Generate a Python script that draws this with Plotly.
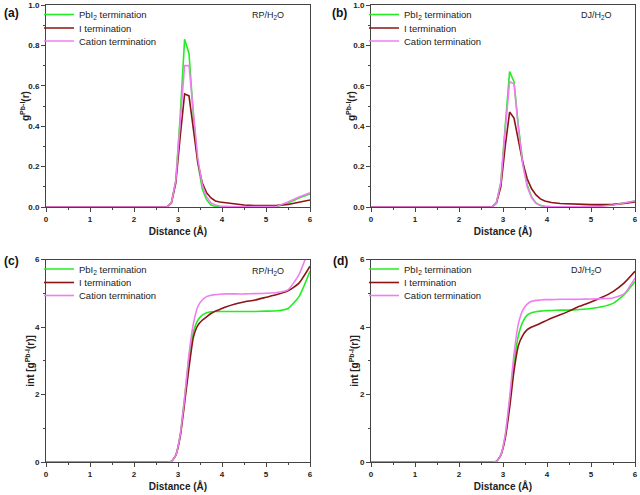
import plotly.graph_objects as go

r = [0, 0.5, 1.0, 1.5, 2.0, 2.5, 2.75, 2.85, 2.95, 3.05, 3.15, 3.25, 3.35, 3.45, 3.55,
     3.65, 3.75, 3.85, 3.95, 4.1, 4.3, 4.5, 4.75, 5.0, 5.25, 5.5, 5.75, 6.0]

# (a) RP/H2O g(r)
g_rp_pbi2 = [0, 0, 0, 0, 0, 0, 0, 0.02, 0.13, 0.45, 0.83, 0.76, 0.45, 0.22, 0.09,
             0.035, 0.01, 0.003, 0, 0, 0, 0, 0, 0, 0.002, 0.02, 0.045, 0.065]
g_rp_i = [0, 0, 0, 0, 0, 0, 0, 0.02, 0.12, 0.35, 0.56, 0.55, 0.38, 0.22, 0.12,
          0.07, 0.045, 0.03, 0.025, 0.02, 0.015, 0.01, 0.007, 0.006, 0.008, 0.012, 0.025, 0.035]
g_rp_cat = [0, 0, 0, 0, 0, 0, 0, 0.02, 0.13, 0.42, 0.70, 0.70, 0.45, 0.24, 0.11,
            0.05, 0.02, 0.01, 0.005, 0.002, 0.001, 0.001, 0.001, 0.002, 0.004, 0.025, 0.05, 0.07]
# (b) DJ/H2O g(r)
g_dj_pbi2 = [0, 0, 0, 0, 0, 0, 0, 0.02, 0.12, 0.40, 0.67, 0.62, 0.40, 0.22, 0.11,
             0.05, 0.02, 0.008, 0.003, 0.001, 0, 0, 0.001, 0.003, 0.005, 0.01, 0.02, 0.03]
g_dj_i = [0, 0, 0, 0, 0, 0, 0, 0.02, 0.10, 0.30, 0.47, 0.44, 0.32, 0.22, 0.14,
          0.09, 0.06, 0.04, 0.03, 0.022, 0.017, 0.015, 0.013, 0.012, 0.012, 0.013, 0.018, 0.025]
g_dj_cat = [0, 0, 0, 0, 0, 0, 0, 0.02, 0.12, 0.38, 0.62, 0.61, 0.39, 0.21, 0.10,
            0.045, 0.018, 0.007, 0.003, 0.001, 0, 0, 0.001, 0.002, 0.004, 0.01, 0.02, 0.03]
# (c) RP/H2O integral
n_rp_pbi2 = [0, 0, 0, 0, 0, 0, 0, 0.02, 0.2, 0.8, 1.9, 3.1, 3.85, 4.2, 4.35,
             4.42, 4.45, 4.46, 4.46, 4.46, 4.46, 4.46, 4.46, 4.47, 4.48, 4.55, 4.9, 5.65]
n_rp_i = [0, 0, 0, 0, 0, 0, 0, 0.02, 0.2, 0.75, 1.75, 2.8, 3.7, 4.05, 4.2,
          4.3, 4.4, 4.47, 4.52, 4.6, 4.68, 4.74, 4.8, 4.88, 4.96, 5.07, 5.3, 5.8]
n_rp_cat = [0, 0, 0, 0, 0, 0, 0, 0.02, 0.2, 0.8, 1.9, 3.2, 4.1, 4.6, 4.8,
            4.9, 4.94, 4.96, 4.97, 4.98, 4.98, 4.98, 4.99, 5.0, 5.02, 5.1, 5.55, 6.4]
# (d) DJ/H2O integral
n_dj_pbi2 = [0, 0, 0, 0, 0, 0, 0, 0.02, 0.2, 0.75, 1.8, 2.95, 3.75, 4.15, 4.35,
             4.42, 4.45, 4.47, 4.48, 4.49, 4.5, 4.5, 4.52, 4.55, 4.6, 4.7, 4.95, 5.35]
n_dj_i = [0, 0, 0, 0, 0, 0, 0, 0.02, 0.2, 0.7, 1.6, 2.7, 3.45, 3.75, 3.92,
          4.0, 4.05, 4.11, 4.17, 4.26, 4.36, 4.47, 4.62, 4.74, 4.88, 5.05, 5.3, 5.65]
n_dj_cat = [0, 0, 0, 0, 0, 0, 0, 0.02, 0.2, 0.8, 1.9, 3.2, 4.1, 4.5, 4.68,
            4.76, 4.79, 4.8, 4.81, 4.81, 4.82, 4.82, 4.82, 4.83, 4.84, 4.86, 4.98, 5.45]

names = ["PbI<sub>2</sub> termination", "I termination", "Cation termination"]
colors = ["#22ee22", "#8b1414", "#f07ef0"]
panel_labels = ["(a)", "(b)", "(c)", "(d)"]
system_labels = ["RP/H<sub>2</sub>O", "DJ/H<sub>2</sub>O", "RP/H<sub>2</sub>O", "DJ/H<sub>2</sub>O"]
y_titles = ["g<sup>Pb-I</sup>(r)", "g<sup>Pb-I</sup>(r)",
            "int [g<sup>Pb-I</sup>(r)]", "int [g<sup>Pb-I</sup>(r)]"]
panel_series = [[g_rp_pbi2, g_rp_i, g_rp_cat], [g_dj_pbi2, g_dj_i, g_dj_cat],
                [n_rp_pbi2, n_rp_i, n_rp_cat], [n_dj_pbi2, n_dj_i, n_dj_cat]]
line_shapes = ["linear", "linear", "spline", "spline"]

W, H = 640, 495
px_x = [(46, 310), (371, 635), (46, 310), (371, 635)]
px_y = [(5, 207), (5, 207), (259.5, 462), (259.5, 462)]
lab_pos = [(2, 13), (330, 13), (2, 261), (331, 261)]
sys_pos = [(286, 16), (614, 16), (286, 271), (604, 270)]
ytitle_x = [25, 351, 30, 354]
leg_rows = [9.5, 23, 36]


def fx(p):
    return p / W


def fy(p):
    return 1 - p / H


fig = go.Figure()
layout = dict(width=W, height=H, margin=dict(l=0, r=0, t=0, b=0, autoexpand=False),
              paper_bgcolor="white", plot_bgcolor="white", showlegend=True,
              font=dict(family="Arial, Liberation Sans", color="#222"))
annotations = []
tickfont = dict(family="Arial, Liberation Sans", size=8, color="#222", weight="bold")
titlefont = dict(family="Arial, Liberation Sans", size=10, color="#222", weight="bold")

for i in range(4):
    k = i + 1
    xa = "x" if k == 1 else f"x{k}"
    ya = "y" if k == 1 else f"y{k}"
    for j, (s, nm, c) in enumerate(zip(panel_series[i], names, colors)):
        li = 3 * i + j + 1
        leg = "legend" if li == 1 else f"legend{li}"
        fig.add_trace(go.Scatter(x=r, y=s, mode="lines", name=nm, xaxis=xa, yaxis=ya,
                                 legend=leg, showlegend=True,
                                 line=dict(color=c, width=1.6, shape=line_shapes[i], smoothing=0.5),
                                 cliponaxis=True))
        layout[leg] = dict(x=fx(px_x[i][0] - 7), y=fy(px_y[i][0] + leg_rows[j]),
                           xanchor="left", yanchor="middle",
                           bgcolor="rgba(0,0,0,0)", font=dict(size=9.5, color="#222"),
                           itemwidth=30, borderwidth=0)
    common = dict(showline=True, linecolor="#444", linewidth=1, mirror=True,
                  ticks="outside", ticklen=4, tickcolor="#444", showgrid=False,
                  zeroline=False, tickfont=tickfont, automargin=False)
    layout[f"xaxis{'' if k == 1 else k}"] = dict(
        domain=[fx(px_x[i][0]), fx(px_x[i][1])], anchor=ya, range=[0, 6], dtick=1,
        minor=dict(ticks="outside", ticklen=2, dtick=0.5, tickcolor="#444"),
        title=dict(text="Distance (Å)", font=titlefont, standoff=5), **common)
    if k <= 2:
        yax = dict(range=[0, 1], dtick=0.2, tickformat=".1f",
                   minor=dict(ticks="outside", ticklen=2, dtick=0.1, tickcolor="#444"))
    else:
        yax = dict(range=[0, 6], dtick=2,
                   minor=dict(ticks="outside", ticklen=2, dtick=1, tickcolor="#444"))
    layout[f"yaxis{'' if k == 1 else k}"] = dict(
        domain=[fy(px_y[i][1]), fy(px_y[i][0])], anchor=xa, **yax, **common)
    annotations.append(dict(text=y_titles[i], x=fx(ytitle_x[i]),
                            y=fy((px_y[i][0] + px_y[i][1]) / 2),
                            xref="paper", yref="paper", xanchor="center", yanchor="middle",
                            textangle=-90, showarrow=False, font=titlefont))
    annotations.append(dict(text=panel_labels[i], x=fx(lab_pos[i][0]), y=fy(lab_pos[i][1]),
                            xref="paper", yref="paper", xanchor="left", yanchor="middle",
                            showarrow=False, font=dict(size=12, color="#111", weight="bold")))
    annotations.append(dict(text=system_labels[i], x=fx(sys_pos[i][0]), y=fy(sys_pos[i][1]),
                            xref="paper", yref="paper", xanchor="right", yanchor="middle",
                            showarrow=False, font=dict(size=9, color="#222")))

layout["annotations"] = annotations
fig.update_layout(**layout)
fig.write_html("out.html", config={"displayModeBar": False},
               post_script="document.body.style.margin='0px';")
